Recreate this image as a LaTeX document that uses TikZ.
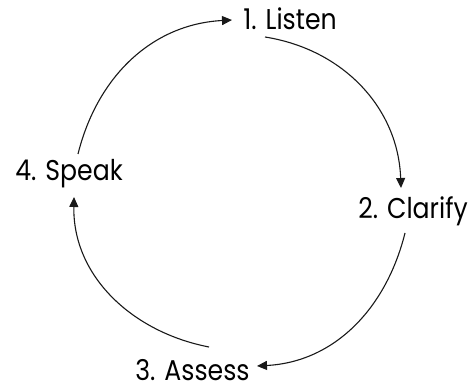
\documentclass[tikz,border=0pt]{standalone}
\usepackage{fontspec}
\setmainfont{Poppins}[FakeStretch=0.88]
\usepackage{tikz}
\usetikzlibrary{arrows.meta}
\tikzset{
  stage/.style={inner sep=0pt,anchor=base west,font=\fontsize{14.3}{17}\selectfont},
  cyc/.style={-{Triangle[length=5pt,width=4.5pt]},line width=0.55pt,black!90}
}
\begin{document}
\begin{tikzpicture}[x=0.5pt,y=-0.5pt]
  \useasboundingbox (0,0) rectangle (471,385);
  \node[stage] (listen) at (243,30) {1. Listen};
  \node[stage] (clarify) at (358,218) {2. Clarify};
  \node[stage] (assess) at (135,380) {3. Assess};
  \node[stage] (speak) at (15,180) {4. Speak};
  \draw[cyc] ([shift={(63,-26)}]speak.base west) to[out=76,in=183] ([shift={(-11,-10)}]listen.base west);
  \draw[cyc] ([shift={(22,7)}]listen.base west) to[out=-9,in=92] ([shift={(43,-30)}]clarify.base west);
  \draw[cyc] ([shift={(47,15)}]clarify.base west) to[out=-104,in=3] ([shift={(7,-14)}]assess.base east);
  \draw[cyc] ([shift={(74,-33)}]assess.base west) to[out=169,in=-91] ([shift={(59,17)}]speak.base west);
\end{tikzpicture}
\end{document}
